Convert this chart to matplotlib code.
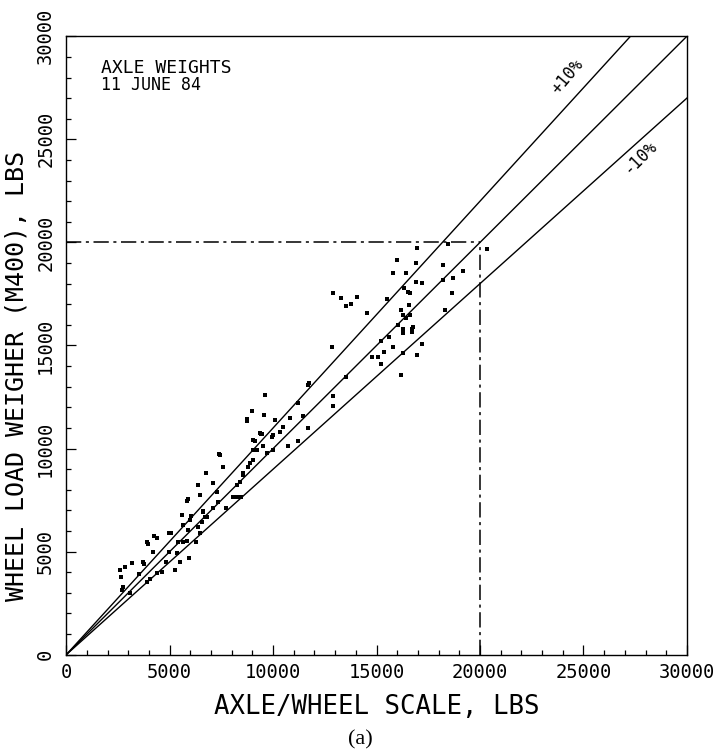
import matplotlib as mpl
from matplotlib import pyplot as plt
import numpy as np

mpl.rcParams.update({'font.family': 'DejaVu Sans Mono'})

# axle/wheel scale [lbs] vs wheel load weigher [lbs]
scale_lbs = [
    5850, 5600, 6050, 6600, 6800, 5650, 5900, 6350, 6450, 4950, 4250, 4400,
    3900, 3950, 4200, 5400, 5650, 5850, 6250, 5350, 5500, 5950, 5250, 4800,
    4650, 4400, 3700, 3750, 3200, 2850, 2600, 2650, 4050, 3900, 2750, 2700,
    3100, 3500, 4950, 5050,
    8750, 9400, 10000, 9050, 7400, 7600, 6750, 7100, 6350, 6450, 5900, 6000,
    9050, 8900, 8550, 8400, 8250, 8050, 7700, 7350, 7100, 6600, 6700, 6550,
    7300, 9500, 9700, 8300,
    9600, 11700, 11200, 9000, 9550, 8750, 10100, 10800, 11450, 12900, 11700,
    9450, 10500, 10350, 9950, 11200, 10700, 10000, 9200, 9050, 8800, 8550,
    9350, 9100, 8450, 8100, 7450,
    12850, 11750, 13500, 14800, 15050, 12900,
    16000, 15800, 16400, 16900, 16900, 12900, 13300, 13500, 13750, 14050,
    14550, 15500, 16350, 16500, 16600, 16550, 16300, 16200, 16600, 16400,
    16050, 16300, 16300, 16700, 16700, 15600, 15200, 15800, 15350, 15200,
    16300, 16950, 16200,
    16950, 18450, 20350, 18200, 19200, 17200, 18200, 18700, 18650, 18300,
    16750, 17200,
]
weigher_lbs = [
    7450, 6800, 6750, 6900, 6700, 6300, 6050, 6200, 5900, 5900, 5750, 5650,
    5450, 5350, 5000, 5450, 5450, 5500, 5450, 4950, 4500, 4700, 4100, 4500,
    4000, 3950, 4500, 4400, 4450, 4250, 4100, 3750, 3650, 3550, 3300, 3150,
    3000, 3900, 5000, 5900,
    11350, 10700, 10650, 10400, 9750, 9100, 8800, 8350, 8250, 7750, 7550, 6550,
    9950, 9300, 8800, 8400, 8250, 7650, 7100, 7400, 7100, 6950, 6700, 6450,
    7900, 10100, 9800, 7650,
    12600, 13100, 12200, 11800, 11650, 11450, 11400, 11500, 11600, 12550, 11000,
    10700, 11050, 10800, 10550, 10350, 10100, 9950, 9950, 9450, 9100, 8700,
    10750, 10350, 7650, 7650, 9700,
    14950, 13200, 13450, 14450, 14450, 12050,
    19150, 18500, 18500, 19000, 18100, 17550, 17300, 16900, 17000, 17350,
    16600, 17250, 17800, 17600, 17550, 16950, 16500, 16700, 16500, 16350,
    16000, 15800, 15600, 15800, 15650, 15400, 15200, 14950, 14700, 14100,
    14650, 14550, 13550,
    19750, 19900, 19700, 18900, 18600, 18050, 18200, 18250, 17550, 16700,
    15900, 15050,
]

band = [1.1, 1.0, 0.9]
band_labels = ['+10%', '-10%']
ref_lbs = 20000
axis_max = 30000


def plot_axle_weights(ax):
    x = np.array([0, axis_max])
    for k in band:
        ax.plot(x, k * x, color='black', lw=1.0)

    ax.plot([0, ref_lbs], [ref_lbs, ref_lbs], color='black', lw=1.1,
            dashes=(10, 3, 2, 3))
    ax.plot([ref_lbs, ref_lbs], [0, ref_lbs], color='black', lw=1.1,
            dashes=(10, 3, 2, 3))

    ax.scatter(scale_lbs, weigher_lbs, marker='s', s=12, color='black',
               linewidths=0, zorder=3)

    ax.text(24200, 28060, band_labels[0], rotation=50, fontsize=12,
            ha='center', va='center')
    ax.text(27730, 24140, band_labels[1], rotation=45, fontsize=12,
            ha='center', va='center')

    ax.text(0.056, 0.948, 'AXLE WEIGHTS', transform=ax.transAxes,
            fontsize=13, va='center', ha='left')
    ax.text(0.056, 0.921, '11 JUNE 84', transform=ax.transAxes,
            fontsize=12, va='center', ha='left')

    ax.set_xlim(0, axis_max)
    ax.set_ylim(0, axis_max)
    ticks = np.arange(0, axis_max + 1, 5000)
    ax.set_xticks(ticks)
    ax.set_yticks(ticks)
    ax.set_xticks(np.arange(0, axis_max + 1, 1000), minor=True)
    ax.set_yticks(np.arange(0, axis_max + 1, 1000), minor=True)
    ax.set_yticklabels([str(t) for t in ticks], rotation=90, va='center')
    ax.tick_params(which='both', direction='in', top=False, right=False,
                   labelsize=13.5, width=0.9)
    ax.tick_params(which='major', length=7, pad=6)
    ax.tick_params(which='minor', length=3.5)
    ax.tick_params(axis='y', which='major', pad=8)

    ax.set_xlabel('AXLE/WHEEL SCALE, LBS', fontsize=18.5)
    ax.set_ylabel('WHEEL LOAD WEIGHER (M400), LBS', fontsize=18)
    ax.xaxis.set_label_coords(0.5, -0.063)
    ax.yaxis.set_label_coords(-0.061, 0.45)
    for sp in ax.spines.values():
        sp.set_linewidth(1.0)


if __name__ == '__main__':
    fig = plt.figure(figsize=(7.2, 7.56), dpi=100)
    ax = fig.add_axes([0.092, 0.134, 0.862, 0.818])
    plot_axle_weights(ax)
    fig.text(0.5, 0.021, '(a)', fontsize=16, family='Liberation Serif',
             ha='center', va='center')
    fig.savefig('out.png', dpi=100)
